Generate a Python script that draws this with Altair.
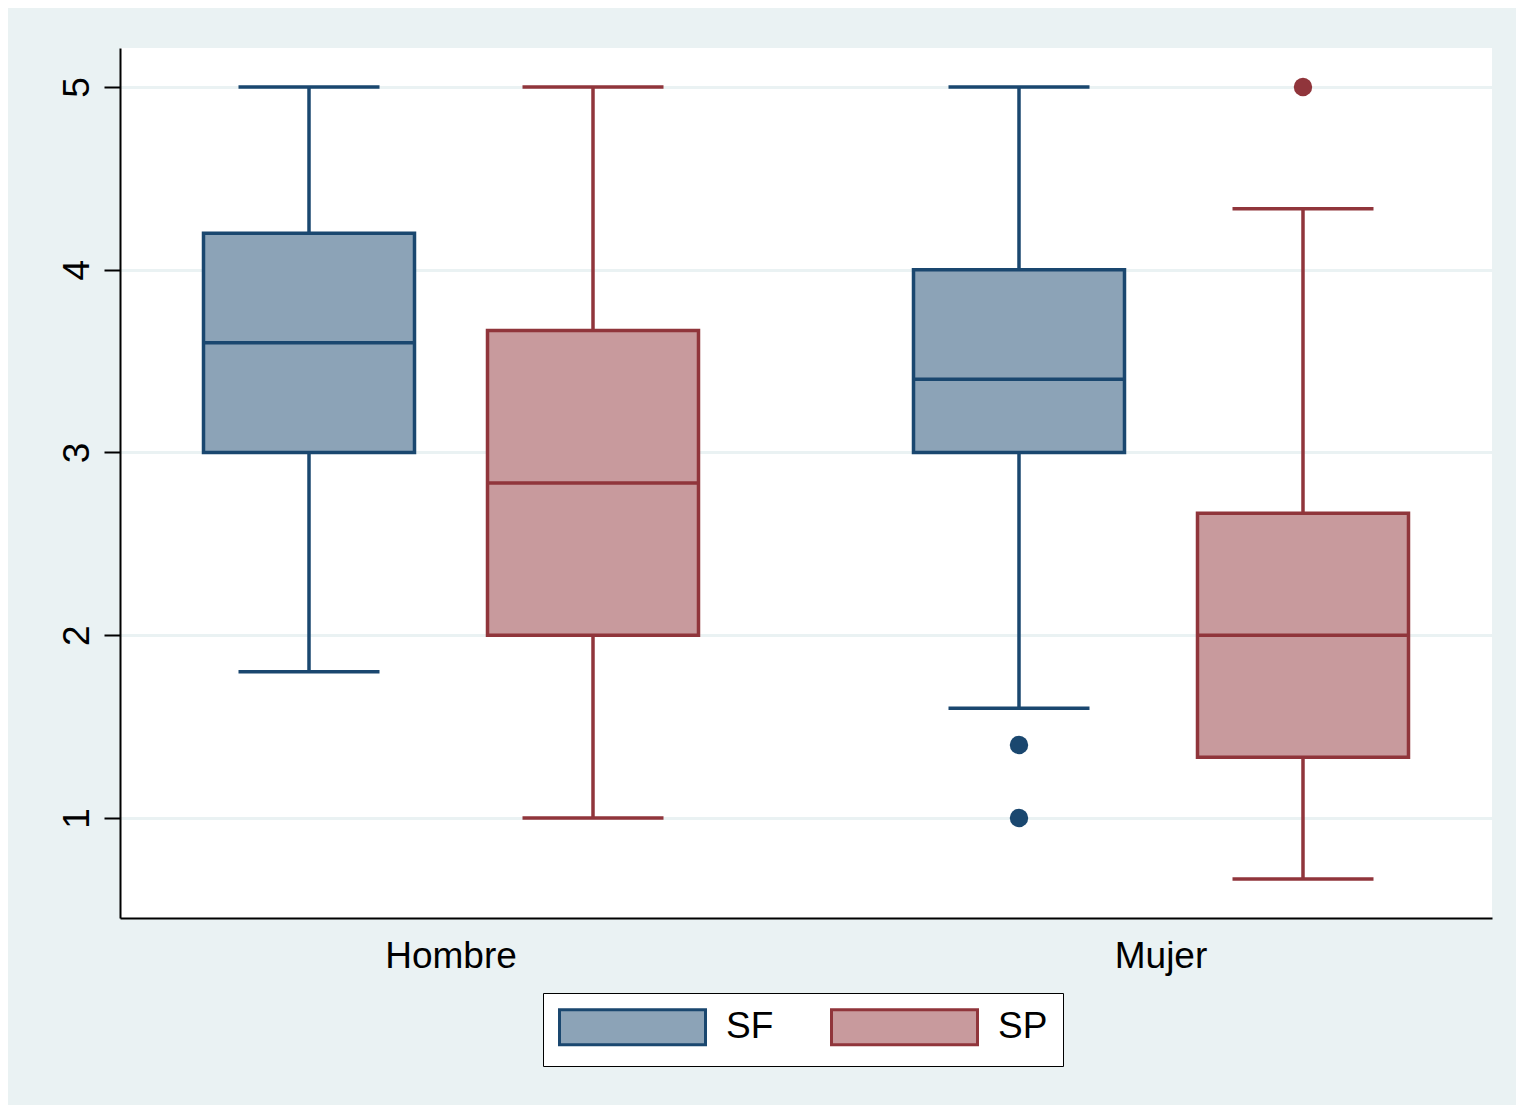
import altair as alt
import pandas as pd

# ---- data ----
groups = ["Hombre", "Hombre", "Mujer", "Mujer"]
series = ["SF", "SP", "SF", "SP"]
lower = [1.8, 1.0, 1.6, 0.667]
q1 = [3.0, 2.0, 3.0, 1.333]
median = [3.6, 2.833, 3.4, 2.0]
q3 = [4.2, 3.667, 4.0, 2.667]
upper = [5.0, 5.0, 5.0, 4.333]

out_group = ["Mujer", "Mujer", "Mujer"]
out_series = ["SF", "SF", "SP"]
out_value = [1.4, 1.0, 5.0]

y_ticks = [1, 2, 3, 4, 5]
series_names = ["SF", "SP"]

boxes = pd.DataFrame({"group": groups, "series": series, "lower": lower, "q1": q1,
                      "median": median, "q3": q3, "upper": upper})
outs = pd.DataFrame({"group": out_group, "series": out_series, "value": out_value})

FONT = "Liberation Sans"
FS = 37
NAVY = "#1A476F"
MAROON = "#90353B"
NAVY_L = "#8CA3B7"
MAROON_L = "#C89A9D"
BG = "#EAF2F3"
LW = 3.5

xscale = alt.Scale(paddingInner=0.0676, paddingOuter=0)
xoffscale = alt.Scale(paddingInner=0, paddingOuter=0.1655)
yscale = alt.Scale(domain=[0.453, 5.213], nice=False, zero=False)

xaxis = alt.Axis(title=None, labelAngle=0, ticks=False, grid=False, domainColor="black",
                 domainWidth=2, labelFont=FONT, labelFontSize=FS, labelColor="black",
                 labelPadding=20)
yaxis = alt.Axis(title=None, values=y_ticks, format="d", labelAngle=270, labelAlign="center",
                 labelBaseline="alphabetic", labelFont=FONT, labelFontSize=FS,
                 labelColor="black", labelPadding=16, tickSize=16, tickWidth=2,
                 tickColor="black", domainColor="black", domainWidth=2, grid=True,
                 gridColor=BG, gridWidth=3)

X = alt.X("group:N", scale=xscale, axis=xaxis, title=None)
XO = alt.XOffset("series:N", scale=xoffscale, sort=series_names)
# colour for lines/points: data-driven domain (kept separate from the legend scales)
colorenc = alt.Color("series:N", scale=alt.Scale(range=[NAVY, MAROON]), legend=None)

# wide rectangle legend key: 146 x 35 px drawn from a 35 px symbol slot
legend = alt.Legend(title=None, orient="none", legendX=423, legendY=945, direction="horizontal",
                    columns=2, symbolType="M-1,-1L7.343,-1L7.343,1L-1,1Z", symbolSize=1225,
                    symbolStrokeWidth=3, symbolOpacity=1, labelFont=FONT, labelFontSize=FS,
                    labelColor="black", labelOffset=130, columnPadding=51, padding=15,
                    fillColor="white", strokeColor="black", labelLimit=0)

whisk = alt.Chart(boxes).mark_rule(strokeWidth=LW).encode(
    x=X, xOffset=XO, y=alt.Y("lower:Q", scale=yscale, axis=yaxis, title=None), y2="upper:Q",
    color=colorenc)

box = alt.Chart(boxes).mark_bar(size=211, strokeWidth=LW, opacity=1).encode(
    x=X, xOffset=XO, y=alt.Y("q1:Q", scale=yscale, axis=yaxis, title=None), y2="q3:Q",
    fill=alt.Fill("series:N", scale=alt.Scale(domain=series_names, range=[NAVY_L, MAROON_L]), legend=legend),
    stroke=alt.Stroke("series:N", scale=alt.Scale(domain=series_names, range=[NAVY, MAROON]), legend=legend))

med = alt.Chart(boxes).mark_tick(size=211, thickness=LW, opacity=1).encode(
    x=X, xOffset=XO, y=alt.Y("median:Q", scale=yscale, axis=yaxis, title=None), color=colorenc)

cap_lo = alt.Chart(boxes).mark_tick(size=141, thickness=LW, opacity=1).encode(
    x=X, xOffset=XO, y=alt.Y("lower:Q", scale=yscale, axis=yaxis, title=None), color=colorenc)

cap_hi = alt.Chart(boxes).mark_tick(size=141, thickness=LW, opacity=1).encode(
    x=X, xOffset=XO, y=alt.Y("upper:Q", scale=yscale, axis=yaxis, title=None), color=colorenc)

pts = alt.Chart(outs).mark_circle(size=340, opacity=1).encode(
    x=X, xOffset=XO, y=alt.Y("value:Q", scale=yscale, axis=yaxis, title=None), color=colorenc)

chart = alt.layer(whisk, box, med, cap_lo, cap_hi, pts).properties(
    width=1372, height=870,
    autosize=alt.AutoSizeParams(type="none"),
    padding={"left": 112, "top": 40, "right": 24, "bottom": 187},
    background=BG,
).configure_view(stroke=None, fill="white")

chart.save("out.html", embed_options={"renderer": "svg", "actions": False})
